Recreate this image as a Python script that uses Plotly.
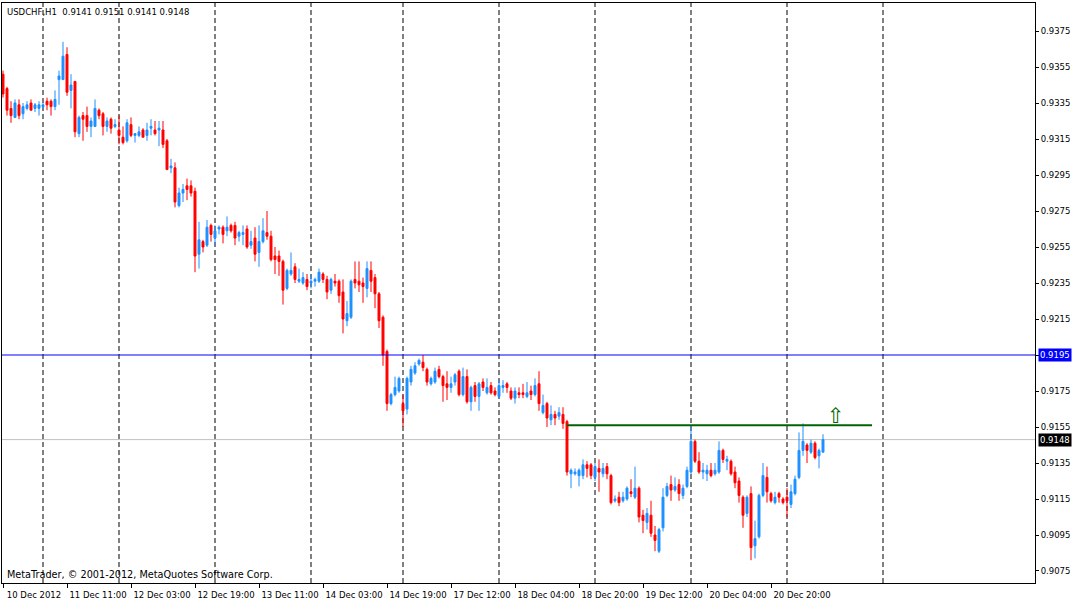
import plotly.graph_objects as go

# ------------------------------ Data ------------------------------

symbol_title = "USDCHF,H1  0.9141 0.9151 0.9141 0.9148"
copyright_text = "MetaTrader, © 2001-2012, MetaQuotes Software Corp."

opens = [
    0.9351, 0.9343, 0.9332, 0.9327, 0.9334, 0.9329, 0.9332, 0.9335, 0.9332, 0.9332,
    0.9333, 0.9336, 0.9336, 0.9333, 0.9348, 0.9348, 0.9362, 0.9342, 0.9347, 0.9318,
    0.9328, 0.9328, 0.9322, 0.9322, 0.9331, 0.9329, 0.9322, 0.9326, 0.9322, 0.9320,
    0.9316, 0.9314, 0.9323, 0.9317, 0.9317, 0.9320, 0.9317, 0.9321, 0.9320, 0.9320,
    0.9320, 0.9314, 0.9299, 0.9299, 0.9278, 0.9285, 0.9289, 0.9289, 0.9286, 0.9251,
    0.9258, 0.9256, 0.9267, 0.9260, 0.9265, 0.9266, 0.9264, 0.9267, 0.9267, 0.9261,
    0.9262, 0.9265, 0.9256, 0.9260, 0.9252, 0.9258, 0.9263, 0.9261, 0.9250, 0.9250,
    0.9247, 0.9232, 0.9240, 0.9244, 0.9236, 0.9235, 0.9237, 0.9235, 0.9236, 0.9236,
    0.9240, 0.9237, 0.9231, 0.9236, 0.9236, 0.9230, 0.9214, 0.9216, 0.9237, 0.9236,
    0.9235, 0.9232, 0.9242, 0.9238, 0.9229, 0.9216, 0.9197, 0.9168, 0.9173, 0.9175,
    0.9168, 0.9165, 0.9180, 0.9185, 0.9190, 0.9191, 0.9187, 0.9179, 0.9180, 0.9187,
    0.9183, 0.9179, 0.9177, 0.9180, 0.9186, 0.9173, 0.9183, 0.9169, 0.9178, 0.9172,
    0.9180, 0.9174, 0.9178, 0.9175, 0.9172, 0.9177, 0.9179, 0.9175, 0.9171, 0.9174,
    0.9174, 0.9172, 0.9175, 0.9173, 0.9179, 0.9163, 0.9168, 0.9159, 0.9162, 0.9161,
    0.9162, 0.9158, 0.9129, 0.9129, 0.9128, 0.9128, 0.9134, 0.9134, 0.9127, 0.9132,
    0.9129, 0.9133, 0.9128, 0.9114, 0.9116, 0.9114, 0.9115, 0.9119, 0.9116, 0.9121,
    0.9106, 0.9102, 0.9106, 0.9095, 0.9086, 0.9099, 0.9117, 0.9123, 0.9120, 0.9123,
    0.9117, 0.9122, 0.9130, 0.9147, 0.9136, 0.9130, 0.9129, 0.9131, 0.9129, 0.9130,
    0.9142, 0.9136, 0.9136, 0.9130, 0.9125, 0.9116, 0.9107, 0.9118, 0.9089, 0.9094,
    0.9117, 0.9127, 0.9118, 0.9113, 0.9118, 0.9115, 0.9116, 0.9112, 0.9118, 0.9127,
    0.9142, 0.9145, 0.9141, 0.9146, 0.9139, 0.9141,
]
highs = [
    0.9353, 0.9344, 0.9336, 0.9337, 0.9337, 0.9335, 0.9336, 0.9337, 0.9335, 0.9336,
    0.9335, 0.9338, 0.9337, 0.9342, 0.9353, 0.9369, 0.9366, 0.9351, 0.9347, 0.9328,
    0.9330, 0.9333, 0.9327, 0.9337, 0.9332, 0.9330, 0.9327, 0.9327, 0.9326, 0.9328,
    0.9322, 0.9326, 0.9327, 0.9318, 0.9322, 0.9321, 0.9324, 0.9326, 0.9325, 0.9325,
    0.9325, 0.9315, 0.9304, 0.9302, 0.9288, 0.9290, 0.9293, 0.9292, 0.9288, 0.9269,
    0.9259, 0.9270, 0.9268, 0.9267, 0.9267, 0.9267, 0.9272, 0.9268, 0.9269, 0.9264,
    0.9267, 0.9267, 0.9264, 0.9266, 0.9267, 0.9271, 0.9275, 0.9264, 0.9255, 0.9253,
    0.9248, 0.9243, 0.9252, 0.9246, 0.9243, 0.9241, 0.9240, 0.9240, 0.9238, 0.9243,
    0.9241, 0.9239, 0.9238, 0.9240, 0.9237, 0.9237, 0.9225, 0.9237, 0.9247, 0.9247,
    0.9238, 0.9247, 0.9247, 0.9240, 0.9230, 0.9217, 0.9198, 0.9174, 0.9183, 0.9183,
    0.9173, 0.9183, 0.9189, 0.9191, 0.9193, 0.9195, 0.9188, 0.9183, 0.9188, 0.9189,
    0.9184, 0.9186, 0.9183, 0.9185, 0.9187, 0.9188, 0.9187, 0.9178, 0.9180, 0.9180,
    0.9182, 0.9182, 0.9180, 0.9177, 0.9181, 0.9181, 0.9180, 0.9177, 0.9177, 0.9177,
    0.9179, 0.9180, 0.9178, 0.9182, 0.9186, 0.9173, 0.9169, 0.9167, 0.9164, 0.9166,
    0.9166, 0.9159, 0.9132, 0.9132, 0.9132, 0.9137, 0.9136, 0.9135, 0.9135, 0.9137,
    0.9135, 0.9135, 0.9129, 0.9117, 0.9119, 0.9119, 0.9122, 0.9126, 0.9133, 0.9122,
    0.9109, 0.9110, 0.9114, 0.9100, 0.9099, 0.9121, 0.9124, 0.9128, 0.9127, 0.9126,
    0.9123, 0.9133, 0.9155, 0.9148, 0.9141, 0.9135, 0.9134, 0.9135, 0.9135, 0.9147,
    0.9143, 0.9139, 0.9137, 0.9133, 0.9127, 0.9117, 0.9117, 0.9122, 0.9103, 0.9118,
    0.9135, 0.9133, 0.9119, 0.9119, 0.9119, 0.9116, 0.9121, 0.9123, 0.9128, 0.9152,
    0.9157, 0.9146, 0.9148, 0.9147, 0.9143, 0.9151,
]
lows = [
    0.9338, 0.9328, 0.9324, 0.9327, 0.9326, 0.9326, 0.9331, 0.9331, 0.9330, 0.9328,
    0.9332, 0.9331, 0.9328, 0.9331, 0.9334, 0.9348, 0.9339, 0.9332, 0.9316, 0.9316,
    0.9314, 0.9319, 0.9316, 0.9322, 0.9326, 0.9317, 0.9319, 0.9318, 0.9321, 0.9312,
    0.9312, 0.9313, 0.9316, 0.9313, 0.9316, 0.9316, 0.9314, 0.9317, 0.9317, 0.9311,
    0.9310, 0.9298, 0.9296, 0.9277, 0.9277, 0.9280, 0.9281, 0.9283, 0.9241, 0.9243,
    0.9252, 0.9255, 0.9258, 0.9256, 0.9262, 0.9257, 0.9261, 0.9263, 0.9256, 0.9258,
    0.9256, 0.9254, 0.9254, 0.9247, 0.9244, 0.9257, 0.9259, 0.9247, 0.9240, 0.9239,
    0.9223, 0.9231, 0.9239, 0.9235, 0.9235, 0.9234, 0.9231, 0.9232, 0.9233, 0.9235,
    0.9235, 0.9226, 0.9229, 0.9233, 0.9224, 0.9207, 0.9211, 0.9215, 0.9232, 0.9230,
    0.9224, 0.9227, 0.9230, 0.9221, 0.9210, 0.9189, 0.9164, 0.9167, 0.9172, 0.9174,
    0.9155, 0.9162, 0.9178, 0.9184, 0.9189, 0.9186, 0.9178, 0.9178, 0.9179, 0.9182,
    0.9169, 0.9170, 0.9174, 0.9178, 0.9172, 0.9172, 0.9168, 0.9164, 0.9169, 0.9164,
    0.9175, 0.9173, 0.9173, 0.9172, 0.9171, 0.9174, 0.9174, 0.9170, 0.9168, 0.9171,
    0.9171, 0.9171, 0.9170, 0.9172, 0.9164, 0.9162, 0.9155, 0.9156, 0.9156, 0.9159,
    0.9154, 0.9128, 0.9121, 0.9128, 0.9122, 0.9126, 0.9127, 0.9126, 0.9125, 0.9119,
    0.9127, 0.9126, 0.9112, 0.9113, 0.9111, 0.9113, 0.9114, 0.9116, 0.9115, 0.9102,
    0.9096, 0.9098, 0.9094, 0.9086, 0.9085, 0.9097, 0.9116, 0.9114, 0.9119, 0.9114,
    0.9115, 0.9121, 0.9129, 0.9135, 0.9129, 0.9126, 0.9125, 0.9127, 0.9128, 0.9129,
    0.9135, 0.9131, 0.9128, 0.9121, 0.9113, 0.9099, 0.9105, 0.9081, 0.9082, 0.9093,
    0.9116, 0.9113, 0.9113, 0.9112, 0.9113, 0.9112, 0.9105, 0.9110, 0.9117, 0.9126,
    0.9139, 0.9135, 0.9140, 0.9137, 0.9132, 0.9141,
]
closes = [
    0.9340, 0.9331, 0.9328, 0.9335, 0.9328, 0.9333, 0.9334, 0.9331, 0.9334, 0.9334,
    0.9334, 0.9334, 0.9333, 0.9337, 0.9350, 0.9361, 0.9341, 0.9345, 0.9319, 0.9327,
    0.9326, 0.9322, 0.9325, 0.9332, 0.9328, 0.9322, 0.9325, 0.9321, 0.9323, 0.9317,
    0.9313, 0.9324, 0.9317, 0.9318, 0.9319, 0.9316, 0.9320, 0.9322, 0.9318, 0.9321,
    0.9312, 0.9298, 0.9300, 0.9280, 0.9285, 0.9287, 0.9287, 0.9285, 0.9250, 0.9259,
    0.9255, 0.9266, 0.9262, 0.9264, 0.9266, 0.9262, 0.9266, 0.9264, 0.9260, 0.9263,
    0.9263, 0.9255, 0.9258, 0.9251, 0.9258, 0.9264, 0.9261, 0.9248, 0.9248, 0.9247,
    0.9231, 0.9242, 0.9242, 0.9237, 0.9237, 0.9238, 0.9233, 0.9236, 0.9237, 0.9241,
    0.9237, 0.9230, 0.9237, 0.9235, 0.9228, 0.9215, 0.9218, 0.9236, 0.9235, 0.9234,
    0.9233, 0.9243, 0.9236, 0.9229, 0.9214, 0.9195, 0.9168, 0.9173, 0.9177, 0.9182,
    0.9164, 0.9182, 0.9187, 0.9189, 0.9192, 0.9188, 0.9180, 0.9182, 0.9186, 0.9183,
    0.9178, 0.9177, 0.9179, 0.9184, 0.9173, 0.9183, 0.9169, 0.9177, 0.9172, 0.9179,
    0.9177, 0.9177, 0.9174, 0.9173, 0.9178, 0.9178, 0.9177, 0.9171, 0.9175, 0.9173,
    0.9173, 0.9174, 0.9173, 0.9178, 0.9168, 0.9167, 0.9160, 0.9162, 0.9160, 0.9163,
    0.9157, 0.9130, 0.9131, 0.9130, 0.9131, 0.9134, 0.9132, 0.9128, 0.9133, 0.9130,
    0.9132, 0.9129, 0.9113, 0.9115, 0.9113, 0.9116, 0.9121, 0.9118, 0.9121, 0.9105,
    0.9103, 0.9107, 0.9096, 0.9092, 0.9098, 0.9116, 0.9122, 0.9120, 0.9122, 0.9118,
    0.9121, 0.9131, 0.9147, 0.9136, 0.9130, 0.9131, 0.9131, 0.9128, 0.9131, 0.9142,
    0.9137, 0.9137, 0.9129, 0.9124, 0.9117, 0.9106, 0.9116, 0.9088, 0.9093, 0.9117,
    0.9128, 0.9119, 0.9114, 0.9116, 0.9116, 0.9113, 0.9114, 0.9119, 0.9126, 0.9142,
    0.9147, 0.9142, 0.9146, 0.9138, 0.9142, 0.9148,
]

# time axis labels (bar index -> text), every 16 bars like the terminal does
label_bars = [0, 16, 32, 48, 64, 80, 96, 112, 128, 144, 160, 176, 192]
label_texts = ["10 Dec 2012", "11 Dec 11:00", "12 Dec 03:00", "12 Dec 19:00",
               "13 Dec 11:00", "14 Dec 03:00", "14 Dec 19:00", "17 Dec 12:00",
               "18 Dec 04:00", "18 Dec 20:00", "19 Dec 12:00", "20 Dec 04:00",
               "20 Dec 20:00"]

# day separators (bar index)
separator_bars = [10, 29, 53, 77, 100, 124, 148, 172, 196, 220]

price_ticks = [0.9075, 0.9095, 0.9115, 0.9135, 0.9155, 0.9175, 0.9195, 0.9215,
               0.9235, 0.9255, 0.9275, 0.9295, 0.9315, 0.9335, 0.9355, 0.9375]

level_line = 0.9195       # blue horizontal line
bid_price = 0.9148        # last price
trend_start, trend_end = 141, 217.25
trend_price = 0.9156
arrow_bar, arrow_price = 208.25, 0.9161

# ------------------------------ Figure ------------------------------

FONT = "DejaVu Sans"
BULL = "#1E90FF"
BEAR = "#FF0000"

bars = list(range(len(opens)))

fig = go.Figure()

fig.add_trace(go.Candlestick(
    x=bars, open=opens, high=highs, low=lows, close=closes,
    increasing=dict(line=dict(color=BULL, width=1), fillcolor=BULL),
    decreasing=dict(line=dict(color=BEAR, width=1), fillcolor=BEAR),
    whiskerwidth=0, showlegend=False, hoverinfo="skip"))

# separators
for b in separator_bars:
    fig.add_shape(type="line", x0=b, x1=b, y0=0, y1=1, xref="x", yref="paper",
                  line=dict(color="black", width=1, dash="5px,3px"), layer="below")

# horizontal lines
fig.add_shape(type="line", x0=0, x1=1, xref="paper", y0=level_line, y1=level_line,
              line=dict(color="#0000FF", width=1))
fig.add_shape(type="line", x0=0, x1=1, xref="paper", y0=bid_price, y1=bid_price,
              line=dict(color="#C0C0C0", width=1), layer="below")
fig.add_shape(type="line", x0=trend_start, x1=trend_end, y0=trend_price, y1=trend_price,
              line=dict(color="#006400", width=2))

fig.add_annotation(x=arrow_bar, y=arrow_price, text="⇧", showarrow=False,
                   font=dict(family=FONT, size=21, color="#006400"))

# price labels on the axis
fig.add_annotation(x=1, xref="paper", y=level_line, text="0.9195", showarrow=False,
                   xanchor="left", xshift=3, bgcolor="#0000FF", borderpad=1,
                   font=dict(family=FONT, size=8.5, color="white"))
fig.add_annotation(x=1, xref="paper", y=bid_price, text="0.9148", showarrow=False,
                   xanchor="left", xshift=3, bgcolor="black", borderpad=1,
                   font=dict(family=FONT, size=8.5, color="white"))

fig.add_annotation(x=0, y=1, xref="paper", yref="paper", text=symbol_title,
                   showarrow=False, xanchor="left", yanchor="top", xshift=3, yshift=-2,
                   font=dict(family=FONT, size=8.5, color="black"))
fig.add_annotation(x=0, y=0, xref="paper", yref="paper", text=copyright_text,
                   showarrow=False, xanchor="left", yanchor="bottom", xshift=3, yshift=1,
                   font=dict(family=FONT, size=9.7, color="black"))

fig.update_layout(
    width=1075, height=599,
    margin=dict(l=2, r=40, t=3, b=16),
    paper_bgcolor="white", plot_bgcolor="white",
    font=dict(family=FONT, size=8.5, color="black"),
    showlegend=False,
    xaxis=dict(range=[-0.25, 258.0], rangeslider=dict(visible=False), automargin=False,
               tickvals=label_bars, ticktext=label_texts,
               ticks="outside", ticklen=4, tickcolor="black", ticklabelshift=31,
               showgrid=False, zeroline=False,
               showline=True, linecolor="black", linewidth=1, mirror=True),
    yaxis=dict(range=[0.906833, 0.939056], side="right", automargin=False,
               tickvals=price_ticks, tickformat=".4f",
               ticks="outside", ticklen=3, tickcolor="black",
               showgrid=False, zeroline=False,
               showline=True, linecolor="black", linewidth=1, mirror=True),
)

# page body has an 8px default margin; drop it so the figure sits at the window corner
fig.write_html("out.html", config={"displayModeBar": False},
               post_script="document.body.style.margin='0px';")
